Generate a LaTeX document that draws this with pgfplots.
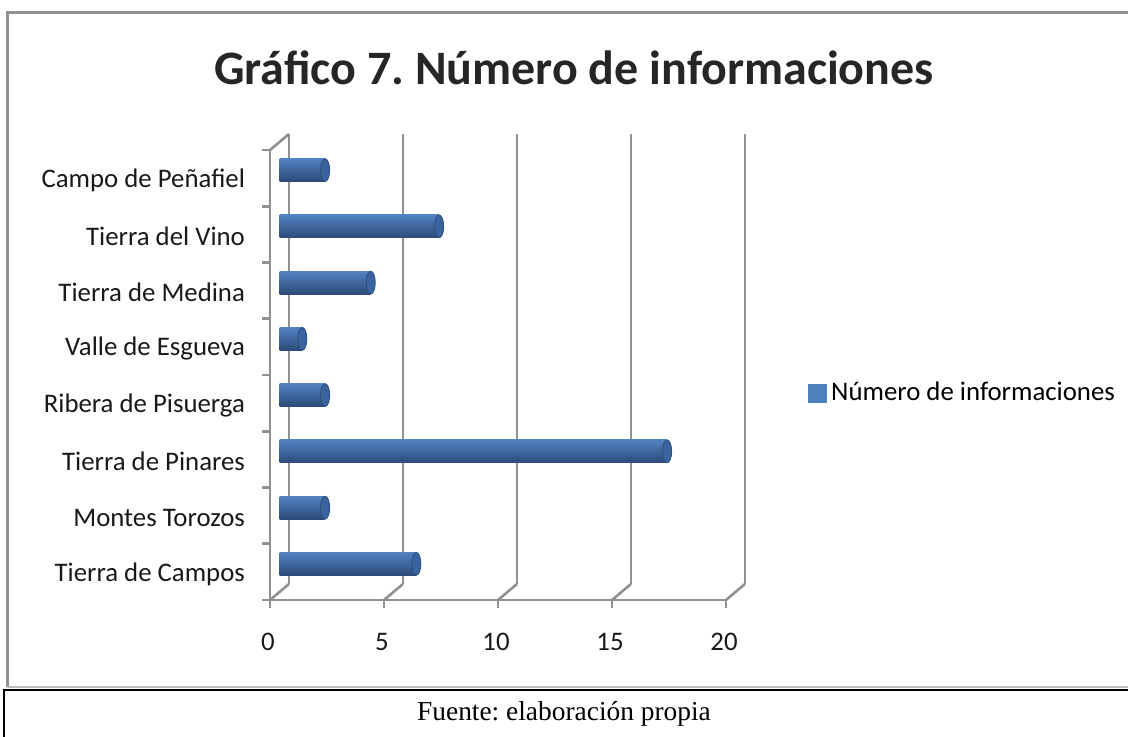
\documentclass[border=0pt]{standalone}
\usepackage{fontspec}
\setmainfont{Carlito}
\newfontfamily\timesfont{Liberation Serif}
\usepackage{pgfplots}
\pgfplotsset{compat=1.18}

\definecolor{gridgray}{RGB}{145,145,145}
\definecolor{barblue}{RGB}{79,129,189}
\definecolor{bartop}{RGB}{82,130,194}
\definecolor{barmid}{RGB}{112,162,224}
\definecolor{barbot}{RGB}{44,74,120}
\definecolor{capblue}{RGB}{58,100,160}
\definecolor{capedge}{RGB}{44,76,122}

\pgfplotsset{
  plane/.style={
    scale only axis,
    width=228pt, height=225pt,
    xmin=0, xmax=20, ymin=-0.5, ymax=7.5,
    anchor=south west,
  },
  cyl/.style={xbar, bar width=11.5pt, draw=none, forget plot,
    top color=bartop, middle color=barmid, bottom color=barbot,
    mark=*, mark size=5.7pt,
    mark options={xscale=0.4, draw=capedge, fill=capblue, line width=0.4pt}},
}

\begin{document}
\frenchspacing
\begin{tikzpicture}
\useasboundingbox (0,0) rectangle (564pt,368.5pt);

% frames
\draw[gridgray, line width=1.5pt] (3.5pt,25pt) -- (3.5pt,362pt) -- (570pt,362pt);
\draw[gridgray!60, line width=1pt] (3.5pt,25pt) -- (570pt,25pt);
\draw[black, line width=0.8pt] (2pt,0pt) -- (2pt,23.5pt) -- (570pt,23.5pt);

\node[font=\fontsize{24}{28}\selectfont\bfseries, text=black!85] at (287pt,334.5pt)
  {Gráfico 7. Número de informaciones};
\node[font=\timesfont\fontsize{13.7}{16}\selectfont] at (282pt,11.5pt)
  {Fuente: elaboración propia};

% back wall gridlines
\begin{axis}[plane, at={(144.5pt,76.5pt)},
  axis line style={draw=none}, major tick length=0pt,
  xtick={0,5,...,20}, ytick=\empty, xticklabels={},
  xmajorgrids, grid style={gridgray, line width=1.3pt}]
\end{axis}

% bars at mid depth (bottom to top)
\begin{axis}[plane, at={(139.75pt,72.5pt)}, hide axis,
  legend style={at={(axis description cs:1.159,0.442)}, anchor=west,
    draw=none, fill=none, inner sep=0pt,
    font=\fontsize{13.4}{16}\selectfont}]
\addlegendimage{legend image code/.code={\fill[barblue] (0pt,-4.5pt) rectangle (9pt,4.5pt);}}
\addlegendentry{Número de informaciones}
\addplot[cyl] coordinates {(6,0)};  % Tierra de Campos
\addplot[cyl] coordinates {(2,1)};  % Montes Torozos
\addplot[cyl] coordinates {(17,2)}; % Tierra de Pinares
\addplot[cyl] coordinates {(2,3)};  % Ribera de Pisuerga
\addplot[cyl] coordinates {(1,4)};  % Valle de Esgueva
\addplot[cyl] coordinates {(4,5)};  % Tierra de Medina
\addplot[cyl] coordinates {(7,6)};  % Tierra del Vino
\addplot[cyl] coordinates {(2,7)};  % Campo de Peñafiel
\end{axis}

% front axis lines, ticks and labels
\begin{axis}[plane, at={(135pt,68.5pt)},
  axis lines*=left,
  axis line style={gridgray, line width=1.3pt},
  xtick={0,5,...,20},
  ytick={0,...,7},
  minor ytick={-0.5,0.5,...,7.5},
  yticklabels={Tierra de Campos, Montes Torozos, Tierra de Pinares,
    Ribera de Pisuerga, Valle de Esgueva, Tierra de Medina,
    Tierra del Vino, Campo de Peñafiel},
  tick align=outside,
  major tick length=4pt,
  minor tick length=4pt,
  x tick style={gridgray, line width=1.3pt},
  y tick style={draw=none},
  minor y tick style={draw=gridgray, line width=1.3pt},
  ticklabel style={font=\fontsize{13.4}{16}\selectfont, text=black!90},
  /pgf/number format/assume math mode=true,
  yticklabel style={xshift=-5pt, yshift=-1pt},
  xticklabel style={yshift=-9pt, xshift=-1pt},
  clip=false]
\pgfplotsinvokeforeach{0,5,10,15,20}{
  \draw[gridgray, line width=1.3pt] (axis cs:#1,-0.5) -- ++(9.5pt,8pt);
}
\draw[gridgray, line width=1.3pt] (axis cs:0,7.5) -- ++(9.5pt,8pt);
\end{axis}
\end{tikzpicture}
\end{document}
